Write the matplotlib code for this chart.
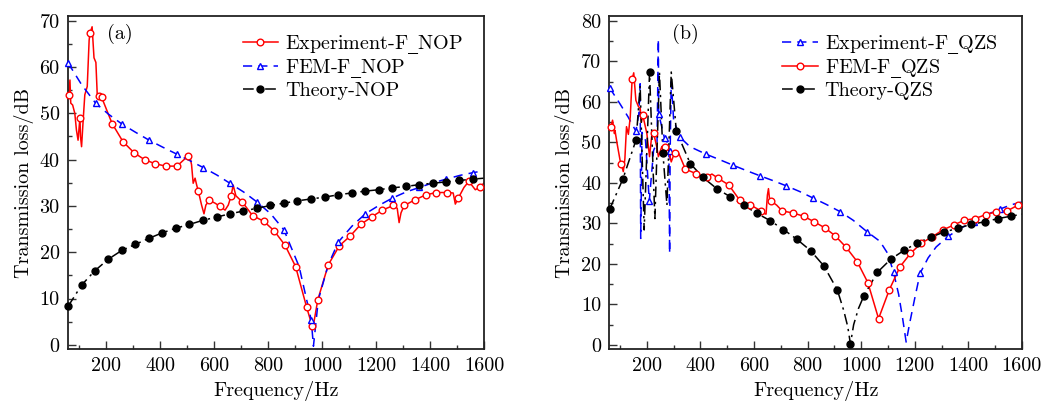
import matplotlib
matplotlib.use("Agg")
import matplotlib.pyplot as plt
from matplotlib.lines import Line2D
from matplotlib.ticker import MultipleLocator

plt.rcParams['font.family'] = ['cmr10', 'DejaVu Serif']
plt.rcParams['mathtext.fontset'] = 'custom'
plt.rcParams['mathtext.rm'] = 'DejaVu Serif'

# ---------------- Panel (a) data ----------------
exp_nop_mark_f = [63, 104, 141, 174, 184, 223, 263, 304, 343, 383, 422, 463, 504, 542, 583, 622, 663,
                  704, 743, 784, 823, 863, 902, 943, 963, 984, 1023, 1064, 1104, 1143, 1183, 1223,
                  1264, 1304, 1343, 1384, 1423, 1464, 1504, 1543, 1583]
exp_nop_mark_tl = [54.0, 49.1, 67.3, 53.8, 53.5, 47.8, 43.9, 41.5, 40.0, 39.1, 38.6, 38.6, 40.8, 33.2,
                   31.2, 29.9, 32.1, 30.9, 27.9, 26.7, 24.6, 21.5, 16.9, 8.1, 4.1, 9.7, 17.3, 21.4,
                   23.5, 26.0, 27.6, 29.1, 30.1, 30.1, 31.3, 32.4, 32.9, 32.9, 31.7, 35.3, 34.0]
exp_nop_det_f = [60, 67, 70, 77, 85, 91, 97, 106, 110, 116, 122, 131, 138, 149, 156, 163, 168,
                 511, 517, 523, 530, 536, 554, 563, 570, 604, 641, 653, 671, 681, 966,
                 1278, 1285, 1292, 1485, 1493, 1498, 1525, 1567, 1600]
exp_nop_det_tl = [54.0, 57.2, 52.2, 51.8, 50.0, 46.4, 44.2, 45.0, 42.8, 48.6, 54.0, 55.8, 65.8, 68.7,
                  62.0, 61.0, 54.0,
                  40.6, 38.9, 34.9, 36.0, 34.5, 30.2, 28.3, 30.2, 30.6, 29.1, 30.2, 34.5, 32.2, 3.6,
                  29.5, 26.4, 28.5, 32.8, 30.4, 31.0, 34.0, 33.5, 35.0]

fem_nop_mark_f = [60, 162, 259, 360, 462, 560, 659, 758, 859, 960, 1060, 1160, 1260, 1360, 1460, 1559]
fem_nop_mark_tl = [60.9, 52.2, 47.7, 44.2, 41.2, 38.3, 34.9, 30.9, 24.8, 5.3, 22.2, 28.3, 31.7, 34.0,
                   35.8, 37.2]
fem_nop_det_f = [110, 210, 310, 410, 510, 610, 710, 810, 915, 943, 968, 986, 1023, 1110, 1210, 1310,
                 1410, 1510, 1600]
fem_nop_det_tl = [56.2, 49.8, 45.9, 42.7, 39.8, 36.7, 33.0, 28.3, 16.9, 9.7, -0.3, 9.7, 17.3, 25.6,
                  30.1, 33.0, 35.0, 36.6, 37.6]

th_nop_mark_f = [60, 110, 159, 209, 259, 309, 359, 409, 459, 509, 559, 610, 659, 709, 759, 809, 859,
                 908, 958, 1009, 1059, 1109, 1159, 1209, 1259, 1309, 1359, 1409, 1459, 1508, 1559]
th_nop_mark_tl = [8.3, 12.9, 16.0, 18.5, 20.4, 21.7, 23.0, 24.2, 25.2, 26.0, 26.9, 27.6, 28.3, 28.9,
                  29.5, 30.1, 30.6, 31.1, 31.5, 31.9, 32.4, 32.8, 33.2, 33.5, 33.9, 34.2, 34.6, 34.9,
                  35.2, 35.5, 35.8]
th_nop_det_f = [1600]
th_nop_det_tl = [36.0]

# ---------------- Panel (b) data ----------------
exp_qzs_mark_f = [61, 159, 209, 244, 266, 287, 322, 421, 521, 621, 720, 820, 922, 1021, 1121, 1220,
                  1325, 1420, 1520]
exp_qzs_mark_tl = [63.5, 52.8, 35.5, 57.1, 51.0, 47.9, 51.4, 47.1, 44.4, 41.8, 39.3, 36.3, 32.9, 28.0,
                   17.9, 17.7, 26.8, 30.4, 33.6]
exp_qzs_det_f = [100, 130, 170, 175, 177, 182, 195, 225, 238, 243, 282, 285, 291, 300, 360, 470, 570,
                 670, 770, 870, 970, 1070, 1100, 1140, 1155, 1168, 1180, 1200, 1250, 1280, 1370,
                 1470, 1560, 1600]
exp_qzs_det_tl = [59.5, 56.3, 57.0, 64.5, 26.3, 52.5, 50.5, 48.0, 50.0, 75.5, 49.5, 22.6, 65.0, 55.5,
                  49.0, 45.8, 43.1, 40.6, 37.9, 34.7, 30.8, 25.6, 22.5, 12.5, 6.5, 0.7, 5.0, 11.5,
                  21.5, 24.2, 28.8, 32.2, 34.6, 35.3]

fem_qzs_mark_f = [66, 105, 145, 185, 225, 266, 305, 344, 384, 424, 465, 506, 546, 586, 626, 665, 705,
                  745, 785, 825, 865, 904, 944, 985, 1025, 1065, 1105, 1145, 1184, 1224, 1265, 1305,
                  1345, 1385, 1425, 1466, 1505, 1545, 1585]
fem_qzs_mark_tl = [53.8, 44.6, 65.6, 56.7, 52.4, 48.9, 47.5, 43.4, 42.3, 41.5, 41.2, 39.5, 35.8, 34.6,
                   33.1, 35.5, 33.1, 32.6, 31.8, 30.4, 28.9, 26.9, 24.1, 20.6, 15.4, 6.5, 13.6, 19.3,
                   22.6, 25.1, 26.7, 28.4, 29.6, 30.8, 31.2, 32.2, 32.9, 33.1, 34.5]
fem_qzs_det_f = [60, 72, 79, 81, 89, 100, 112, 118, 124, 131, 138, 151, 159, 169, 175, 180, 200, 210,
                 219, 237, 243, 256, 278, 291, 298, 319, 418, 443, 636, 645, 650, 654, 658, 685,
                 1600]
fem_qzs_det_tl = [54.0, 55.5, 52.2, 53.0, 49.7, 45.6, 42.8, 46.0, 53.9, 52.0, 56.3, 67.2, 60.4, 58.8,
                  58.5, 55.0, 52.2, 46.5, 52.2, 48.9, 46.5, 49.0, 48.9, 45.2, 46.5, 47.3, 41.5, 42.2,
                  32.5, 32.3, 37.0, 38.6, 36.0, 34.5, 34.7]

th_qzs_mark_f = [61, 110, 160, 210, 260, 310, 362, 409, 461, 511, 561, 611, 660, 710, 760, 811, 861,
                 911, 960, 1010, 1060, 1111, 1161, 1210, 1260, 1310, 1361, 1411, 1461, 1510, 1560]
th_qzs_mark_tl = [33.5, 40.9, 50.7, 67.3, 47.3, 52.8, 44.8, 41.4, 38.6, 36.6, 34.5, 32.5, 30.7, 28.5,
                  26.1, 23.3, 19.5, 13.6, 0.25, 12.1, 17.9, 21.2, 23.4, 25.2, 26.6, 27.9, 28.8, 29.8,
                  30.4, 31.2, 31.8]
th_qzs_det_f = [175, 190, 230, 247, 275, 291, 935, 950, 972, 990, 1600]
th_qzs_det_tl = [64.0, 28.4, 31.2, 67.4, 34.5, 67.4, 8.5, 4.5, 5.0, 9.0, 32.3]

# cmr10 has no underscore glyph, so the underscore is set with mathtext (DejaVu Serif)
labels_a = [r"Experiment-F$\_$NOP", r"FEM-F$\_$NOP", "Theory-NOP"]
labels_b = [r"Experiment-F$\_$QZS", r"FEM-F$\_$QZS", "Theory-QZS"]

RED = '#ff0000'
BLUE = '#0000ff'
BLACK = '#000000'
DASH = (0, (6, 4))
DASHDOT = (0, (7, 3, 1.5, 3))

styles = {
    'red': dict(color=RED, ls='-', marker='o', mfc='white', ms=4.8, mew=1.0),
    'blue': dict(color=BLUE, ls=DASH, marker='^', mfc='white', ms=5, mew=1.0),
    'black': dict(color=BLACK, ls=DASHDOT, marker='o', mfc=BLACK, ms=5, mew=1.0),
}


def merged(mf, mt, df, dt):
    pts = sorted(zip(list(mf) + list(df), list(mt) + list(dt)))
    return [p[0] for p in pts], [p[1] for p in pts]


def draw(ax, f_m, t_m, f_d, t_d, key):
    st = styles[key]
    lx, ly = merged(f_m, t_m, f_d, t_d)
    ax.plot(lx, ly, color=st['color'], ls=st['ls'], lw=1.1, zorder=2)
    ax.plot(f_m, t_m, ls='none', marker=st['marker'], mfc=st['mfc'], mec=st['color'],
            ms=st['ms'], mew=st['mew'], zorder=3, clip_on=False)
    return Line2D([], [], color=st['color'], ls=st['ls'], lw=1.1, marker=st['marker'],
                  mfc=st['mfc'], mec=st['color'], ms=st['ms'], mew=st['mew'])


fig = plt.figure(figsize=(10.47, 4.03), dpi=100)
ax1 = fig.add_axes([0.065, 0.134, 0.3975, 0.826])
ax2 = fig.add_axes([0.582, 0.134, 0.394, 0.826])

h1 = draw(ax1, exp_nop_mark_f, exp_nop_mark_tl, exp_nop_det_f, exp_nop_det_tl, 'red')
h2 = draw(ax1, fem_nop_mark_f, fem_nop_mark_tl, fem_nop_det_f, fem_nop_det_tl, 'blue')
h3 = draw(ax1, th_nop_mark_f, th_nop_mark_tl, th_nop_det_f, th_nop_det_tl, 'black')

g1 = draw(ax2, exp_qzs_mark_f, exp_qzs_mark_tl, exp_qzs_det_f, exp_qzs_det_tl, 'blue')
g2 = draw(ax2, fem_qzs_mark_f, fem_qzs_mark_tl, fem_qzs_det_f, fem_qzs_det_tl, 'red')
g3 = draw(ax2, th_qzs_mark_f, th_qzs_mark_tl, th_qzs_det_f, th_qzs_det_tl, 'black')

FS = 14.5
for ax, ylim, tag, tagx in ((ax1, (-0.9, 71), '(a)', 0.094), (ax2, (-1.0, 81.2), '(b)', 0.151)):
    ax.set_xlim(60, 1600)
    ax.set_ylim(*ylim)
    ax.xaxis.set_major_locator(MultipleLocator(200))
    ax.xaxis.set_minor_locator(MultipleLocator(100))
    ax.yaxis.set_major_locator(MultipleLocator(10))
    ax.yaxis.set_minor_locator(MultipleLocator(5))
    ax.tick_params(which='both', direction='in', top=False, right=False, labelsize=FS,
                   color='#333333')
    ax.tick_params(which='major', length=6, width=1.0, pad=6)
    ax.tick_params(which='minor', length=3, width=1.0)
    for sp in ax.spines.values():
        sp.set_linewidth(1.3)
        sp.set_color('#222222')
    ax.set_xlabel('Frequency/Hz', fontsize=FS, labelpad=4)
    ax.set_ylabel('Transmission loss/dB', fontsize=FS, labelpad=4)
    ax.text(tagx, 0.946, tag, transform=ax.transAxes, fontsize=FS, va='center', ha='left')

leg_kw = dict(loc='upper left', frameon=False, fontsize=FS, handlelength=1.75, handletextpad=0.35,
              labelspacing=0.07, borderaxespad=0.0)
ax1.legend([h1, h2, h3], labels_a, bbox_to_anchor=(0.40, 0.974), **leg_kw)
ax2.legend([g1, g2, g3], labels_b, bbox_to_anchor=(0.40, 0.974), **leg_kw)

fig.savefig('out.png', dpi=100)
